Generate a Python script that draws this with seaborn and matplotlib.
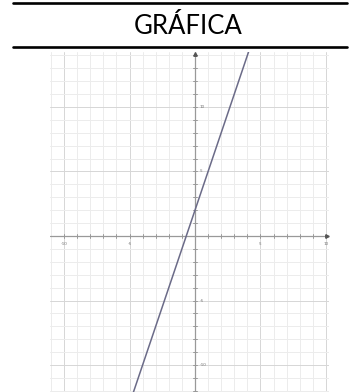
import matplotlib
matplotlib.use("Agg")
import matplotlib.pyplot as plt
import seaborn as sns
import numpy as np
import pandas as pd
from matplotlib.lines import Line2D

# Data: line y = 3x + 2
line_x = [-5.0, 5.0]
line_y = [-13.0, 17.0]
tick_values = [-10, -5, 5, 10]
title_text = "GRÁFICA"

sns.set_style("white")
plt.rcParams['font.family'] = ['Lato', 'DejaVu Sans']

W, H = 354, 392
fig = plt.figure(figsize=(W / 100, H / 100), dpi=100)

# Decorative header (table borders + title)
fig.add_artist(Line2D([13 / W, 347 / W], [1 - 3 / H, 1 - 3 / H], color='black', lw=1.9,
                      transform=fig.transFigure))
fig.add_artist(Line2D([13 / W, 347 / W], [1 - 47 / H, 1 - 47 / H], color='black', lw=1.9,
                      transform=fig.transFigure))
fig.text(188 / W, 1 - 26 / H, title_text, ha='center', va='center', fontsize=18.5, color='black')

# Graph axes
ax = fig.add_axes([50 / W, 0, (329 - 50) / W, (392 - 52) / H])
ax.set_xlim(-11.07, 10.23)
ax.set_ylim(-12.09, 14.26)

# grid
for v in range(-11, 11):
    c = '#d6d6d6' if v % 5 == 0 else '#ececec'
    ax.axvline(v, color=c, lw=0.7, zorder=0)
for v in range(-12, 15):
    c = '#d6d6d6' if v % 5 == 0 else '#ececec'
    ax.axhline(v, color=c, lw=0.7, zorder=0)

# axes lines
ax.axhline(0, color='#999999', lw=0.9, zorder=1)
ax.axvline(0, color='#999999', lw=0.9, zorder=1)
ax.plot([10.1], [0], marker='>', color='#555555', ms=2.5, zorder=2)
ax.plot([0], [14.1], marker='^', color='#555555', ms=2.5, zorder=2)
# small ticks each unit
for v in range(-10, 11):
    if v != 0:
        ax.plot([v, v], [-0.12, 0.12], color='#999999', lw=0.7, zorder=1)
for v in range(-12, 15):
    if v != 0:
        ax.plot([-0.12, 0.12], [v, v], color='#999999', lw=0.7, zorder=1)

for t in tick_values:
    ax.text(t, -0.45, str(t), ha='center', va='top', fontsize=3.2, color='#777777')
    ax.text(0.35, t, str(t), ha='left', va='center', fontsize=3.2, color='#777777')

df = pd.DataFrame({'x': line_x, 'y': line_y})
sns.lineplot(data=df, x='x', y='y', ax=ax, color='#6b6b88', lw=1.1, zorder=3)

ax.set_xlabel('')
ax.set_ylabel('')
ax.set_xticks([])
ax.set_yticks([])
for s in ax.spines.values():
    s.set_visible(False)

fig.savefig('out.png', dpi=100)
